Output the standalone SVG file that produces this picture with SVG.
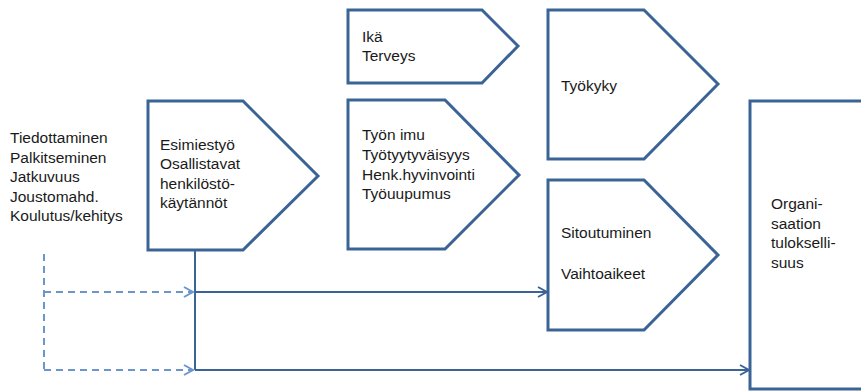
<svg xmlns="http://www.w3.org/2000/svg" width="861" height="392" viewBox="0 0 861 392">
<style>
.shape{fill:#fff;stroke:#3b6496;stroke-width:3;stroke-linejoin:miter}
.t{font-family:"Liberation Sans",Arial,sans-serif;font-size:15.5px;fill:#1a1a1a}
.ln{fill:none;stroke:#3b6496;stroke-width:2}
.dl{fill:none;stroke:#6b96cc;stroke-width:2;stroke-dasharray:7,5}
</style>
<defs>
<marker id="ah" markerWidth="12" markerHeight="12" refX="10" refY="6" orient="auto" markerUnits="userSpaceOnUse">
<path d="M1,1 L10,6 L1,11" fill="none" stroke="#3b6496" stroke-width="2"/>
</marker>
<marker id="ahd" markerWidth="12" markerHeight="12" refX="10" refY="6" orient="auto" markerUnits="userSpaceOnUse">
<path d="M1,1 L10,6 L1,11" fill="none" stroke="#6b96cc" stroke-width="2"/>
</marker>
</defs>
<g id="left-list">
<text class="t" x="10" y="143">Tiedottaminen</text>
<text class="t" x="10" y="163">Palkitseminen</text>
<text class="t" x="10" y="182">Jatkuvuus</text>
<text class="t" x="10" y="202">Joustomahd.</text>
<text class="t" x="10" y="221">Koulutus/kehitys</text>
</g>
<g id="esimiestyo">
<path class="shape" d="M148,101 H243 L318,176 L243,250 H148 Z"/>
<text class="t" x="160" y="150">Esimiestyö</text>
<text class="t" x="160" y="169">Osallistavat</text>
<text class="t" x="160" y="189">henkilöstö-</text>
<text class="t" x="160" y="208">käytännöt</text>
</g>
<g id="ika">
<path class="shape" d="M348,10 H482 L518,46 L482,83 H348 Z"/>
<text class="t" x="362" y="42">Ikä</text>
<text class="t" x="362" y="61">Terveys</text>
</g>
<g id="tyon-imu">
<path class="shape" d="M348,100 H445 L519,175 L445,249 H348 Z"/>
<text class="t" x="362" y="140">Työn imu</text>
<text class="t" x="362" y="160">Työtyytyväisyys</text>
<text class="t" x="362" y="180">Henk.hyvinvointi</text>
<text class="t" x="362" y="199">Työuupumus</text>
</g>
<g id="tyokyky">
<path class="shape" d="M548,10 H644 L718,84 L644,159 H548 Z"/>
<text class="t" x="561" y="91">Työkyky</text>
</g>
<g id="sitoutuminen">
<path class="shape" d="M548,180 H644 L718,255 L644,330 H548 Z"/>
<text class="t" x="561" y="238">Sitoutuminen</text>
<text class="t" x="561" y="279">Vaihtoaikeet</text>
</g>
<g id="organisaatio">
<path class="shape" d="M750,101 H864 V389 H750 Z"/>
<text class="t" x="771" y="209">Organi-</text>
<text class="t" x="771" y="229">saation</text>
<text class="t" x="771" y="248">tulokselli-</text>
<text class="t" x="771" y="268">suus</text>
</g>
<g id="connectors">
<path class="ln" d="M195,251 V370"/>
<path class="ln" d="M195,292 H547" marker-end="url(#ah)"/>
<path class="ln" d="M195,370 H749" marker-end="url(#ah)"/>
<path class="dl" d="M45,255 H44 V370"/>
<path class="dl" d="M44,292 H193" marker-end="url(#ahd)"/>
<path class="dl" d="M44,370 H193" marker-end="url(#ahd)"/>
</g>
</svg>
